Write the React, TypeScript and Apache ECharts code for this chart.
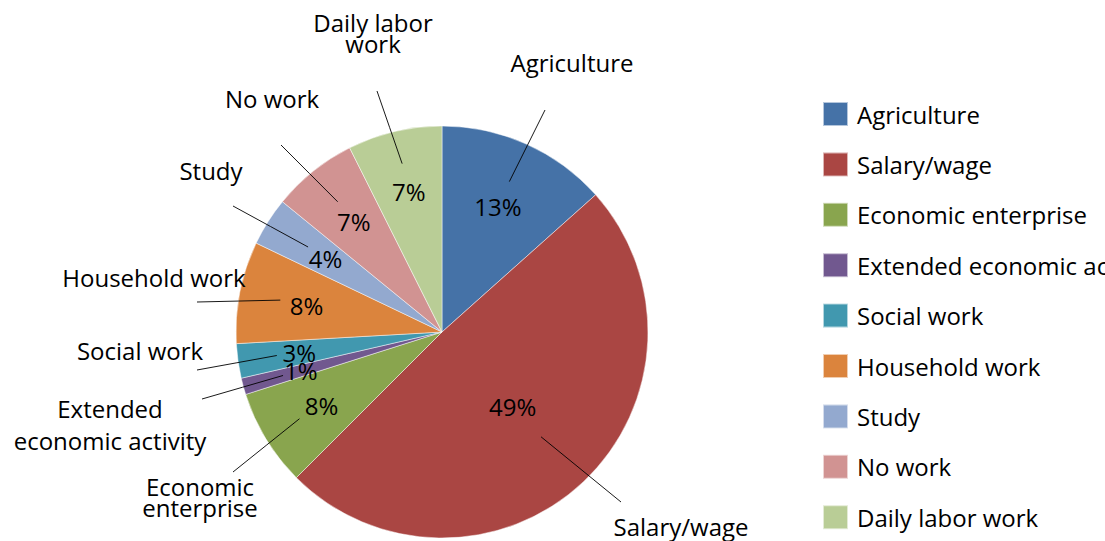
import React, { useEffect, useRef } from "react";
import * as echarts from "echarts";

const categories = [
  "Agriculture",
  "Salary/wage",
  "Economic enterprise",
  "Extended economic activity",
  "Social work",
  "Household work",
  "Study",
  "No work",
  "Daily labor work",
];
const shares = [13.4, 49.1, 7.6, 1.3, 2.7, 8.0, 3.8, 6.7, 7.4];
const pieLabels = [
  "Agriculture",
  "Salary/wage",
  "Economic\nenterprise",
  "Extended\neconomic activity",
  "Social work",
  "Household work",
  "Study",
  "No work",
  "Daily labor\nwork",
];
const colors = ["#4572A7", "#AA4643", "#89A54E", "#71588F", "#4198AF", "#DB843D", "#93A9CF", "#D19392", "#B9CD96"];

// layout (not data)
const CX = 442;
const CY = 332;
const R = 206;
const FONT = "'Open Sans', 'Noto Sans', sans-serif";
const FS = 24;
const innerLabelRadius = [0.665, 0.5, 0.685, 0.71, 0.7, 0.67, 0.67, 0.685, 0.7];
const leaderInnerRadius = [0.8, 0.7, 0.81, 0.8, 0.81, 0.8, 0.77, 0.81, 0.84];
const outerLabelPos = [
  [572, 62],
  [681, 526],
  [200, 497],
  [110, 424],
  [140, 350],
  [154, 277],
  [211, 170],
  [272, 98],
  [373, 33],
];
const leaderOuterEnd = [
  [545, 110],
  [621, 502],
  [233, 472],
  [202, 399],
  [197, 370],
  [197, 302],
  [233, 206],
  [281, 145],
  [377, 91],
];
const outerLineHeight = [24, 24, 21, 32, 24, 24, 24, 24, 21];

function midAngle(i: number): number {
  const total = shares.reduce((a, b) => a + b, 0);
  let cum = 0;
  for (let k = 0; k < i; k++) cum += shares[k];
  return ((cum + shares[i] / 2) / total) * Math.PI * 2;
}
function polar(i: number, frac: number): [number, number] {
  const a = midAngle(i);
  return [CX + R * frac * Math.sin(a), CY - R * frac * Math.cos(a)];
}

const basePie = {
  type: "pie",
  center: [CX, CY],
  radius: R,
  startAngle: 90,
  clockwise: true,
  silent: true,
};

export default function App() {
  const ref = useRef<HTMLDivElement>(null);
  useEffect(() => {
    if (!ref.current) return;
    const chart = echarts.init(ref.current, undefined, { renderer: "svg" });
    chart.setOption({
      animation: false,
      color: colors,
      textStyle: { fontFamily: FONT },
      legend: {
        orient: "vertical",
        left: 822,
        top: 101,
        padding: 0,
        itemWidth: 25,
        itemHeight: 24,
        itemGap: 24.4,
        icon: "rect",
        data: categories,
        textStyle: { fontFamily: FONT, fontSize: FS, color: "#000", padding: [0, 0, 0, 4] },
      },
      series: [
        {
          ...basePie,
          z: 2,
          itemStyle: { borderColor: "rgba(255,255,255,0.6)", borderWidth: 0.8 },
          data: categories.map((c, i) => ({ name: c, value: shares[i] })),
          label: { show: false },
          labelLine: { show: false },
        },
        {
          ...basePie,
          z: 3,
          percentPrecision: 1,
          itemStyle: { color: "rgba(0,0,0,0)" },
          data: categories.map((c, i) => ({ name: c, value: shares[i] })),
          label: {
            show: true,
            position: "inside",
            formatter: (p: any) => Math.round(p.percent) + "%",
            fontFamily: FONT,
            fontSize: FS,
            color: "#000",
          },
          labelLine: { show: false },
          labelLayout: (p: any) => {
            const i = p.dataIndex;
            const pt = polar(i, innerLabelRadius[i]);
            return { x: pt[0], y: pt[1], align: "center", verticalAlign: "middle" };
          },
        },
        {
          ...basePie,
          z: 4,
          itemStyle: { color: "rgba(0,0,0,0)" },
          data: categories.map((c, i) => ({
            name: c,
            value: shares[i],
            label: { lineHeight: outerLineHeight[i] },
          })),
          label: {
            show: true,
            position: "outside",
            formatter: (p: any) => pieLabels[p.dataIndex],
            fontFamily: FONT,
            fontSize: FS,
            color: "#000",
            align: "center",
          },
          labelLine: {
            show: true,
            showAbove: true,
            length: 10,
            length2: 10,
            lineStyle: { color: "#000", width: 0.9 },
          },
          labelLayout: (p: any) => {
            const i = p.dataIndex;
            const inner = polar(i, leaderInnerRadius[i]);
            const end = leaderOuterEnd[i];
            return {
              x: outerLabelPos[i][0],
              y: outerLabelPos[i][1],
              align: "center",
              verticalAlign: "middle",
              labelLinePoints: [inner, [(inner[0] + end[0]) / 2, (inner[1] + end[1]) / 2], end],
            };
          },
        },
      ],
    });
    return () => chart.dispose();
  }, []);
  return (
    <div
      ref={ref}
      style={{ position: "fixed", left: 0, top: 0, width: 1105, height: 541, background: "#fff" }}
    />
  );
}
